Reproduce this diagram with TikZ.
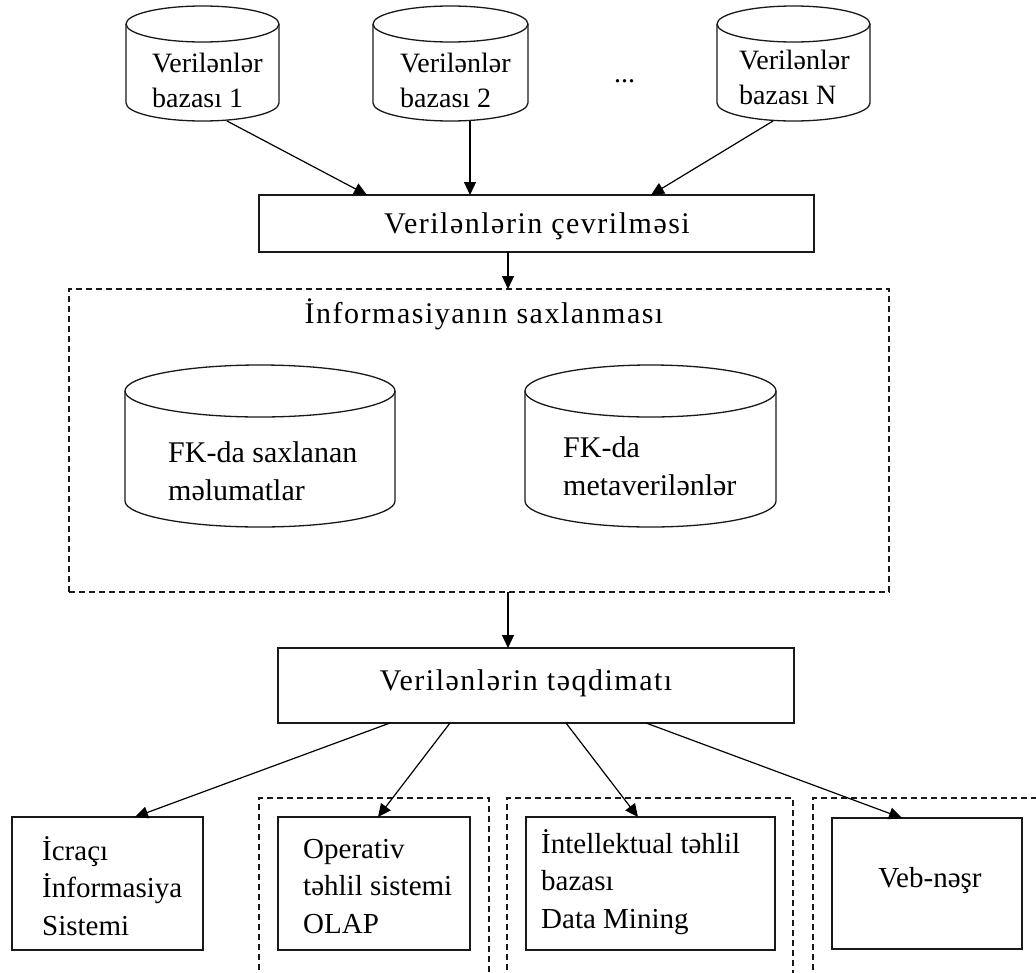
\documentclass[tikz,border=0pt]{standalone}
\usepackage{fontspec}
\setmainfont{Liberation Serif}
\newfontfamily\spacedfont[LetterSpace=5]{Liberation Serif}
\usetikzlibrary{arrows.meta,calc}

% cylinder: name, left x, right x, top y, bottom y, ellipse half-height
\newcommand{\dbcylinder}[6]{%
  \node[cylbox, minimum width={(#3-#2)*1pt}, minimum height={(#5-#4)*1pt}]
    (#1) at ({(#2+#3)/2},{(#4+#5)/2}) {};
  \draw[cylline] (#2,{#4+#6}) -- (#2,{#5-#6})
    arc[start angle=180, end angle=360, x radius={(#3-#2)/2*1pt}, y radius={#6*1pt}]
    -- (#3,{#4+#6});
  \draw[cylline] ({(#2+#3)/2},{#4+#6})
    ellipse[x radius={(#3-#2)/2*1pt}, y radius={#6*1pt}];
}
% box: name, left x, top y, right x, bottom y, style
\newcommand{\boxnode}[6]{%
  \node[#6, minimum width={(#4-#2)*1pt}, minimum height={(#5-#3)*1pt}]
    (#1) at ({(#2+#4)/2},{(#3+#5)/2}) {};
}

\begin{document}
\begin{tikzpicture}[x=1pt, y=-1pt,
  cylbox/.style={inner sep=0pt, outer sep=0pt},
  cylline/.style={line width=1.3pt, black!90},
  boxframe/.style={draw=black!90, line width=1.4pt, inner sep=0pt, outer sep=0pt},
  storeframe/.style={draw=black!90, line width=1.2pt, dash pattern=on 6pt off 4pt, inner sep=0pt, outer sep=0pt},
  groupframe/.style={draw=black!90, line width=1.2pt, dash pattern=on 6pt off 4pt},
  arr/.style={line width=1.2pt, black, -{Triangle[length=13pt,width=12pt]}},
  % multi-line texts are placed by the baseline of their last line
  dbtext/.style={font=\fontsize{28}{35}\selectfont, align=left, inner sep=0pt, anchor=base west},
  fktext/.style={font=\fontsize{30}{38}\selectfont, align=left, inner sep=0pt, anchor=base west},
  outtext/.style={font=\fontsize{29}{37.5}\selectfont, align=left, inner sep=0pt, anchor=base west},
  headtext/.style={font=\fontsize{30}{36}\spacedfont, inner sep=0pt, anchor=base},
]
\useasboundingbox[fill=white] (0,0) rectangle (1036,972);

% source databases
\dbcylinder{db1}{126}{279}{6}{121}{18}
\dbcylinder{db2}{373}{528}{6}{121}{18}
\dbcylinder{dbn}{717}{870}{6}{121}{18}
\node[dbtext] (db1t) at (152,107) {Verilənlər\\bazası 1};
\node[dbtext] (db2t) at (400,107) {Verilənlər\\bazası 2};
\node[dbtext] (dbnt) at (739,104) {Verilənlər\\bazası N};
\node[dbtext] (dots) at (614,82) {...};

% transformation
\boxnode{conv}{259}{195}{814}{252}{boxframe}
\node[headtext] (convt) at (537,233) {Verilənlərin çevrilməsi};

% storage area
\boxnode{store}{69}{289}{889}{592}{storeframe}
\node[headtext] (storet) at (484,323) {İnformasiyanın saxlanması};
\dbcylinder{fk1}{125}{395}{365}{527}{26}
\dbcylinder{fk2}{525}{776}{365}{527}{26}
\node[fktext] (fk1t) at (168,500) {FK-da saxlanan\\məlumatlar};
\node[fktext] (fk2t) at (563,495) {FK-da\\metaverilənlər};

% presentation
\boxnode{pres}{278}{648}{794}{723}{boxframe}
\node[headtext] (prest) at (526,690) {Verilənlərin təqdimatı};

% consumer groups
\draw[groupframe] (259,980) -- (259,798) -- (489,798) -- (489,980);
\draw[groupframe] (507,980) -- (507,798) -- (793,798) -- (793,980);
\draw[groupframe] (813,980) -- (813,798) -- (1045,798);

\boxnode{icra}{12}{817}{203}{950}{boxframe}
\boxnode{olap}{278}{817}{470}{950}{boxframe}
\boxnode{dm}{526}{817}{775}{950}{boxframe}
\boxnode{veb}{832}{818}{1022}{949}{boxframe}
\node[outtext] (icrat) at (42,935) {İcraçı\\İnformasiya\\Sistemi};
\node[outtext] (olapt) at (303,933) {Operativ\\təhlil sistemi\\OLAP};
\node[outtext] (dmt) at (541,928) {İntellektual təhlil\\bazası\\Data Mining};
\node[outtext, anchor=base] (vebt) at (930,887) {Veb-nəşr};

% connectors
\draw[arr] ($(db1.south)+(24.5,0)$) -- ($(conv.north west)+(108,0)$);
\draw[arr] ($(db2.south)+(19.5,0)$) -- ($(conv.north west)+(211,0)$);
\draw[arr] ($(dbn.south)+(-20.5,0)$) -- ($(conv.north west)+(392,0)$);
\draw[arr] ($(conv.south west)+(249,0)$) -- ($(store.north west)+(439,0)$);
\draw[arr] ($(store.south west)+(439,0)$) -- ($(pres.north west)+(230,0)$);
\draw[arr] ($(pres.south west)+(112,0)$) -- ($(icra.north west)+(123,0)$);
\draw[arr] ($(pres.south west)+(172,0)$) -- ($(olap.north west)+(100,0)$);
\draw[arr] ($(pres.south west)+(288,0)$) -- ($(dm.north west)+(112,0)$);
\draw[arr] ($(pres.south west)+(368,0)$) -- ($(veb.north west)+(70,0)$);
\end{tikzpicture}
\end{document}
